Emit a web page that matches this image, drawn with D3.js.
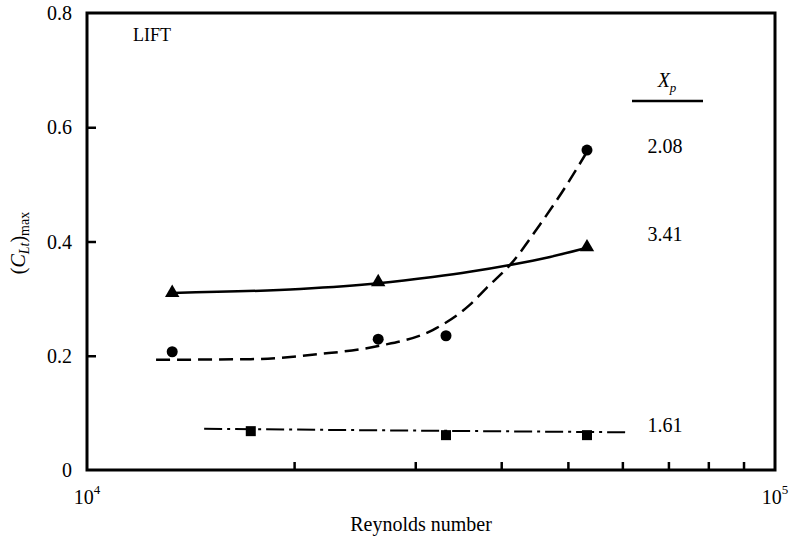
<!DOCTYPE html>
<html>
<head>
<meta charset="utf-8">
<script src="https://cdn.jsdelivr.net/npm/d3@7"></script>
<style>
  body { margin: 0; background: #fff; }
</style>
</head>
<body>
<div id="chart"></div>
<script>
// measured points (Reynolds number vs max lift coefficient)
const reTri = [13300, 26500, 53300];
const clTri = [0.31, 0.329, 0.39];
const reCirc = [13300, 26500, 33250, 53300];
const clCirc = [0.207, 0.229, 0.235, 0.56];
const reSq = [17300, 33250, 53300];
const clSq = [0.068, 0.061, 0.061];

// faired curves drawn through the data
const fit341Re = [13300, 20400, 26500, 31800, 36000, 41200, 47100, 53300];
const fit341Cl = [0.31, 0.317, 0.327, 0.338, 0.347, 0.359, 0.373, 0.389];
const fit208Re = [12600, 17300, 21800, 26500, 31800, 36000, 38100, 41200, 45500, 49500, 53300];
const fit208Cl = [0.193, 0.194, 0.203, 0.217, 0.245, 0.289, 0.319, 0.359, 0.429, 0.494, 0.557];
const fit161Re = [14800, 60900];
const fit161Cl = [0.072, 0.066];

const xMinor = [2e4, 3e4, 4e4, 5e4, 6e4, 7e4, 8e4, 9e4];
const yTicks = [0, 0.2, 0.4, 0.6, 0.8];
const legendLabels = ["2.08", "3.41", "1.61"];
const legendCl = [0.567, 0.413, 0.078];

const width = 793, height = 545;
const svg = d3.select("#chart").append("svg")
    .attr("width", width).attr("height", height)
    .attr("font-family", "'Times New Roman', 'Liberation Serif', serif");

const x = d3.scaleLog().domain([1e4, 1e5]).range([87, 775]);
const y = d3.scaleLinear().domain([0, 0.8]).range([470, 13]);

// inward ticks
svg.append("g")
    .attr("transform", `translate(0, ${y(0)})`)
    .call(d3.axisBottom(x).tickValues(xMinor).tickSize(-8).tickFormat(""))
    .call(g => g.select(".domain").remove())
    .selectAll("line").attr("stroke", "#000").attr("stroke-width", 2.5);

svg.append("g")
    .attr("transform", `translate(${x(1e4)}, 0)`)
    .call(d3.axisLeft(y).tickValues([0.2, 0.4, 0.6]).tickSize(-9).tickFormat(""))
    .call(g => g.select(".domain").remove())
    .selectAll("line").attr("stroke", "#000").attr("stroke-width", 2.5);

// frame
svg.append("rect")
    .attr("x", x(1e4)).attr("y", y(0.8))
    .attr("width", x(1e5) - x(1e4)).attr("height", y(0) - y(0.8))
    .attr("fill", "none").attr("stroke", "#000").attr("stroke-width", 3);

// y tick labels
svg.selectAll(".ylab").data(yTicks).enter().append("text")
    .attr("x", 72).attr("y", d => y(d) + 7)
    .attr("text-anchor", "end").attr("font-size", 20)
    .text(d => d === 0 ? "0" : d.toFixed(1));

// x decade labels
[1e4, 1e5].forEach(d => {
    const t = svg.append("text")
        .attr("x", x(d)).attr("y", 504)
        .attr("text-anchor", "middle").attr("font-size", 20);
    t.append("tspan").text("10");
    t.append("tspan").attr("dy", -10).attr("font-size", 13).text(Math.round(Math.log10(d)));
});

svg.append("text")
    .attr("x", 421).attr("y", 531)
    .attr("text-anchor", "middle").attr("font-size", 20)
    .text("Reynolds number");

// y axis label
const yl = svg.append("text")
    .attr("transform", "translate(25, 243) rotate(-90)")
    .attr("text-anchor", "middle").attr("font-size", 20);
yl.append("tspan").text("(");
yl.append("tspan").attr("font-style", "italic").text("C");
yl.append("tspan").attr("dy", 4).attr("font-size", 14).attr("font-style", "italic").text("Lt");
yl.append("tspan").attr("dy", -4).text(")");
yl.append("tspan").attr("dy", 4).attr("font-size", 14).text("max");

svg.append("text")
    .attr("x", 152).attr("y", 41)
    .attr("text-anchor", "middle").attr("font-size", 18)
    .text("LIFT");

// curves
const line = d3.line().x(d => x(d[0])).y(d => y(d[1])).curve(d3.curveMonotoneX);
svg.append("path")
    .attr("d", line(d3.zip(fit341Re, fit341Cl)))
    .attr("fill", "none").attr("stroke", "#000").attr("stroke-width", 2.5);
svg.append("path")
    .attr("d", line(d3.zip(fit208Re, fit208Cl)))
    .attr("fill", "none").attr("stroke", "#000").attr("stroke-width", 2.5)
    .attr("stroke-dasharray", "14,7");
svg.append("path")
    .attr("d", line(d3.zip(fit161Re, fit161Cl)))
    .attr("fill", "none").attr("stroke", "#000").attr("stroke-width", 2)
    .attr("stroke-dasharray", "18,5,3,5");

// markers
const sym = d3.symbol();
svg.selectAll(".tri").data(d3.zip(reTri, clTri)).enter().append("path")
    .attr("transform", d => `translate(${x(d[0])}, ${y(d[1])})`)
    .attr("d", sym.type(d3.symbolTriangle).size(90)());
svg.selectAll(".circ").data(d3.zip(reCirc, clCirc)).enter().append("circle")
    .attr("cx", d => x(d[0])).attr("cy", d => y(d[1])).attr("r", 5.5);
svg.selectAll(".sq").data(d3.zip(reSq, clSq)).enter().append("rect")
    .attr("x", d => x(d[0]) - 5).attr("y", d => y(d[1]) - 5)
    .attr("width", 10).attr("height", 10);

// legend (X_p values)
const xp = svg.append("text")
    .attr("x", 667).attr("y", 87)
    .attr("text-anchor", "middle").attr("font-size", 20)
    .attr("font-style", "italic");
xp.append("tspan").text("X");
xp.append("tspan").attr("dy", 5).attr("font-size", 13).text("p");
svg.append("line")
    .attr("x1", 632).attr("x2", 703).attr("y1", 101).attr("y2", 101)
    .attr("stroke", "#000").attr("stroke-width", 2.5);

svg.selectAll(".leg").data(legendLabels).enter().append("text")
    .attr("x", 665).attr("y", (d, i) => y(legendCl[i]) + 7)
    .attr("text-anchor", "middle").attr("font-size", 20)
    .text(d => d);
</script>
</body>
</html>
